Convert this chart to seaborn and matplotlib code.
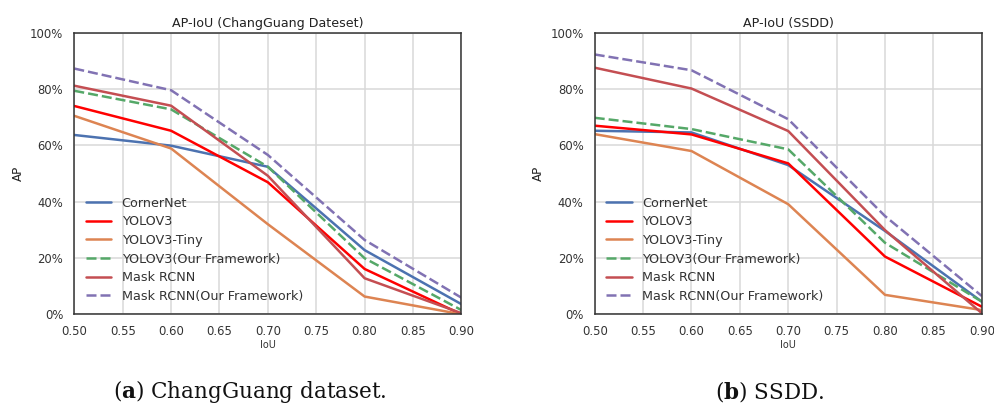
import numpy as np
import pandas as pd
import matplotlib
matplotlib.use("Agg")
import matplotlib.pyplot as plt
import seaborn as sns
from matplotlib.ticker import PercentFormatter

iou = [0.5, 0.6, 0.7, 0.8, 0.9]
models = ["CornerNet", "YOLOV3", "YOLOV3-Tiny", "YOLOV3(Our Framework)",
          "Mask RCNN", "Mask RCNN(Our Framework)"]

# AP (%) per model, ChangGuang dataset
cg_cornernet = [63.7, 59.9, 52.4, 22.8, 3.6]
cg_yolov3 = [74.0, 65.2, 46.9, 16.1, 0.0]
cg_tiny = [70.5, 58.9, 32.0, 6.3, 0.0]
cg_yolov3_our = [79.4, 72.8, 52.4, 19.9, 1.5]
cg_mask = [81.2, 74.1, 49.2, 12.8, 0.4]
cg_mask_our = [87.3, 79.6, 56.6, 26.4, 5.9]

# AP (%) per model, SSDD
ss_cornernet = [65.2, 64.6, 53.0, 29.6, 4.5]
ss_yolov3 = [67.0, 63.9, 53.6, 20.5, 2.7]
ss_tiny = [64.0, 58.0, 39.1, 6.9, 1.5]
ss_yolov3_our = [69.8, 65.8, 58.6, 25.4, 4.5]
ss_mask = [87.6, 80.2, 65.1, 29.9, 0.4]
ss_mask_our = [92.3, 86.7, 69.3, 34.9, 6.5]

panels = [
    ("AP-IoU (ChangGuang Dateset)", "a", "ChangGuang dataset.",
     [cg_cornernet, cg_yolov3, cg_tiny, cg_yolov3_our, cg_mask, cg_mask_our]),
    ("AP-IoU (SSDD)", "b", "SSDD.",
     [ss_cornernet, ss_yolov3, ss_tiny, ss_yolov3_our, ss_mask, ss_mask_our]),
]

palette = {
    "CornerNet": "#4C72B0",
    "YOLOV3": "#FF0000",
    "YOLOV3-Tiny": "#DD8452",
    "YOLOV3(Our Framework)": "#55A868",
    "Mask RCNN": "#C44E52",
    "Mask RCNN(Our Framework)": "#8172B3",
}
dashes = {
    "CornerNet": "",
    "YOLOV3": "",
    "YOLOV3-Tiny": "",
    "YOLOV3(Our Framework)": (4, 1.6),
    "Mask RCNN": "",
    "Mask RCNN(Our Framework)": (4, 1.6),
}

sns.set_theme(style="whitegrid")
plt.rcParams["font.family"] = ["DejaVu Sans"]
plt.rcParams["mathtext.fontset"] = "custom"
plt.rcParams["mathtext.bf"] = "DejaVu Serif:bold"
plt.rcParams["mathtext.rm"] = "DejaVu Serif"

fig = plt.figure(figsize=(9.95, 4.05), dpi=100)
lefts = [0.0747, 0.5977]
caption_x = [0.251, 0.774]

for (title, letter, caption, series), left, cx in zip(panels, lefts, caption_x):
    ax = fig.add_axes([left, 0.224, 0.389, 0.695])
    rows = []
    for m, vals in zip(models, series):
        for x, v in zip(iou, vals):
            rows.append({"IoU": x, "AP": v, "Model": m})
    df = pd.DataFrame(rows)
    sns.lineplot(data=df, x="IoU", y="AP", hue="Model", style="Model",
                 hue_order=models, style_order=models, palette=palette,
                 dashes=dashes, linewidth=1.8, ax=ax)
    ax.set_xlim(0.5, 0.9)
    ax.set_ylim(0, 100)
    ax.set_xticks(np.arange(0.5, 0.901, 0.05))
    ax.set_xticklabels([f"{t:.2f}" for t in np.arange(0.5, 0.901, 0.05)])
    ax.set_yticks(range(0, 101, 20))
    ax.yaxis.set_major_formatter(PercentFormatter(decimals=0))
    ax.tick_params(labelsize=8.4, pad=2, colors="#333333")
    ax.set_title(title, fontsize=9.1, pad=4, color="#222222")
    ax.set_xlabel("IoU", fontsize=7, labelpad=1, color="#333333")
    ax.set_ylabel("AP", fontsize=8.6, labelpad=4, color="#222222")
    ax.grid(color="#d9d9d9", linewidth=1.1)
    for sp in ax.spines.values():
        sp.set_color("#333333")
        sp.set_linewidth(1.1)
    leg = ax.legend(loc="lower left", frameon=False, fontsize=9.2,
                    handlelength=2.0, labelspacing=0.44,
                    bbox_to_anchor=(0.0, 0.0))
    for t in leg.get_texts():
        t.set_color("#333333")
    fig.text(cx, 0.017, rf"($\mathbf{{{letter}}}$) {caption}",
             ha="center", va="baseline", fontsize=15.5,
             family="DejaVu Serif", color="#111111")

fig.savefig("out.png", dpi=100)
